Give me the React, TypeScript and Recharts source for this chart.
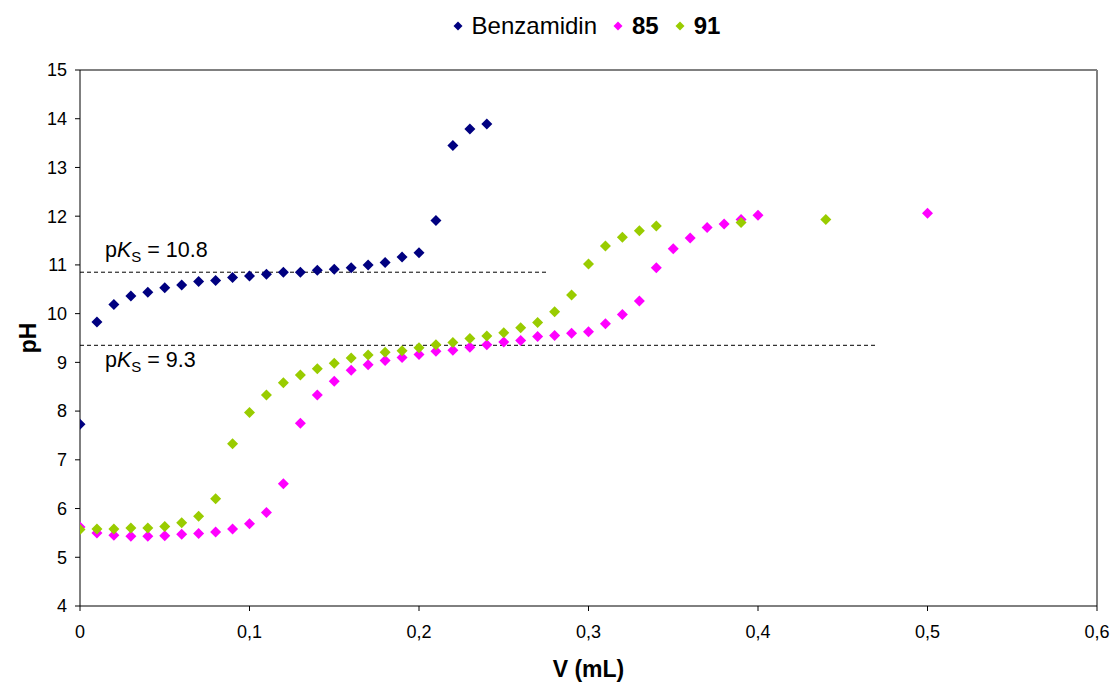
import React from 'react';
import {
  ScatterChart, Scatter, XAxis, YAxis, ReferenceLine, Legend, Label,
} from 'recharts';

const xTicks = [0, 0.1, 0.2, 0.3, 0.4, 0.5, 0.6];
const yTicks = [4, 5, 6, 7, 8, 9, 10, 11, 12, 13, 14, 15];

const vBenz = [0, 0.01, 0.02, 0.03, 0.04, 0.05, 0.06, 0.07, 0.08, 0.09, 0.1, 0.11, 0.12, 0.13, 0.14, 0.15, 0.16, 0.17, 0.18, 0.19, 0.2, 0.21, 0.22, 0.23, 0.24];
const pHBenz = [7.73, 9.83, 10.19, 10.36, 10.44, 10.53, 10.59, 10.66, 10.68, 10.74, 10.77, 10.81, 10.85, 10.85, 10.89, 10.91, 10.94, 11.0, 11.05, 11.16, 11.25, 11.91, 13.45, 13.79, 13.89];

const v85 = [0, 0.01, 0.02, 0.03, 0.04, 0.05, 0.06, 0.07, 0.08, 0.09, 0.1, 0.11, 0.12, 0.13, 0.14, 0.15, 0.16, 0.17, 0.18, 0.19, 0.2, 0.21, 0.22, 0.23, 0.24, 0.25, 0.26, 0.27, 0.28, 0.29, 0.3, 0.31, 0.32, 0.33, 0.34, 0.35, 0.36, 0.37, 0.38, 0.39, 0.4, 0.5];
const pH85 = [5.62, 5.5, 5.45, 5.43, 5.43, 5.44, 5.47, 5.49, 5.52, 5.58, 5.69, 5.92, 6.51, 7.75, 8.33, 8.61, 8.84, 8.95, 9.04, 9.1, 9.16, 9.23, 9.25, 9.31, 9.36, 9.42, 9.45, 9.53, 9.55, 9.6, 9.63, 9.79, 9.98, 10.26, 10.94, 11.33, 11.55, 11.77, 11.84, 11.93, 12.02, 12.06];

const v91 = [0, 0.01, 0.02, 0.03, 0.04, 0.05, 0.06, 0.07, 0.08, 0.09, 0.1, 0.11, 0.12, 0.13, 0.14, 0.15, 0.16, 0.17, 0.18, 0.19, 0.2, 0.21, 0.22, 0.23, 0.24, 0.25, 0.26, 0.27, 0.28, 0.29, 0.3, 0.31, 0.32, 0.33, 0.34, 0.39, 0.44];
const pH91 = [5.57, 5.58, 5.58, 5.6, 5.6, 5.63, 5.71, 5.84, 6.2, 7.33, 7.97, 8.33, 8.58, 8.74, 8.87, 8.98, 9.09, 9.15, 9.21, 9.24, 9.3, 9.36, 9.41, 9.49, 9.54, 9.61, 9.71, 9.82, 10.04, 10.38, 11.02, 11.39, 11.57, 11.7, 11.8, 11.87, 11.93];

const pKsValues = [10.85, 9.35];
const pKsLabels = ['10.8', '9.3'];
const pKsEnds = [0.275, 0.47];

const seriesNames = ['Benzamidin', '85', '91'];
const seriesBold = [false, true, true];
const colors = ['#000080', '#FF00FF', '#99CC00'];

const toPoints = (xs: number[], ys: number[]) => xs.map((x, i) => ({ x, y: ys[i] }));
const dataBenz = toPoints(vBenz, pHBenz);
const data85 = toPoints(v85, pH85);
const data91 = toPoints(v91, pH91);

const FONT = '"Liberation Sans", Arial, Helvetica, sans-serif';

const diamond = (color: string) => (props: any) => {
  const { cx, cy } = props;
  if (cx == null || cy == null) return <g />;
  const h = 5.5;
  return (
    <path
      d={`M${cx},${cy - h} L${cx + h},${cy} L${cx},${cy + h} L${cx - h},${cy} Z`}
      fill={color}
    />
  );
};

const LegendContent = () => (
  <div
    style={{
      display: 'flex',
      justifyContent: 'center',
      alignItems: 'center',
      paddingLeft: 61,
      fontFamily: FONT,
      fontSize: 24,
      lineHeight: '27px',
      height: 27,
      color: '#000',
    }}
  >
    {seriesNames.map((n, i) => (
      <div key={n} style={{ display: 'flex', alignItems: 'center', marginRight: i < 2 ? 16 : 0 }}>
        <svg width={10} height={10} style={{ marginRight: 9 }}>
          <path d="M5,0.5 L9.5,5 L5,9.5 L0.5,5 Z" fill={colors[i]} />
        </svg>
        <span style={{ fontWeight: seriesBold[i] ? 'bold' : 'normal' }}>{n}</span>
      </div>
    ))}
  </div>
);

const pKsLabel = (idx: number) => (props: any) => {
  const vb = props.viewBox || {};
  const x = (vb.x ?? 80) + 25;
  const y = (vb.y ?? 0) + (idx === 0 ? -15 : 22);
  return (
    <text x={x} y={y} fontFamily={FONT} fontSize={21.5} fill="#000">
      <tspan>p</tspan>
      <tspan fontStyle="italic">K</tspan>
      <tspan fontSize={15} dy={5}>S</tspan>
      <tspan dy={-5}>{` = ${pKsLabels[idx]}`}</tspan>
    </text>
  );
};

export default function App() {
  return (
    <div style={{ position: 'absolute', left: 0, top: 0, width: 1112, height: 683, background: '#fff' }}>
      <ScatterChart
        width={1112}
        height={683}
        margin={{ top: 43, right: 15, bottom: 0, left: 0 }}
        style={{ fontFamily: FONT }}
      >
        <XAxis
          type="number"
          dataKey="x"
          domain={[0, 0.6]}
          ticks={xTicks}
          tickFormatter={(v: number) => String(v).replace('.', ',')}
          height={77}
          stroke="#000"
          tickSize={5}
          tickMargin={14}
          tick={{ fill: '#000', fontSize: 18, fontFamily: FONT }}
          allowDataOverflow
        >
          <Label
            content={(p: any) => {
              const vb = p.viewBox;
              return (
                <text
                  x={vb.x + vb.width / 2}
                  y={vb.y + 71}
                  textAnchor="middle"
                  fontFamily={FONT}
                  fontWeight="bold"
                  fontSize={23}
                  fill="#000"
                >
                  V (mL)
                </text>
              );
            }}
          />
        </XAxis>
        <YAxis
          type="number"
          dataKey="y"
          domain={[4, 15]}
          ticks={yTicks}
          width={80}
          stroke="#000"
          tickSize={5}
          tickMargin={8}
          tick={{ fill: '#000', fontSize: 18, fontFamily: FONT }}
          allowDataOverflow
        >
          <Label
            content={(p: any) => {
              const vb = p.viewBox;
              const cx = vb.x + 28;
              const cy = vb.y + vb.height / 2;
              return (
                <text
                  x={cx}
                  y={cy}
                  transform={`rotate(-90 ${cx} ${cy})`}
                  textAnchor="middle"
                  dominantBaseline="central"
                  fontFamily={FONT}
                  fontWeight="bold"
                  fontSize={23}
                  fill="#000"
                >
                  pH
                </text>
              );
            }}
          />
        </YAxis>
        <ReferenceLine y={15} stroke="#808080" strokeWidth={2} />
        <ReferenceLine x={0.6} stroke="#808080" strokeWidth={2} />
        {pKsValues.map((v, i) => (
          <ReferenceLine
            key={`pk${i}`}
            segment={[{ x: 0, y: v }, { x: pKsEnds[i], y: v }]}
            stroke="#000"
            strokeWidth={1}
            strokeDasharray="4 3"
            label={pKsLabel(i)}
          />
        ))}
        <Legend verticalAlign="top" wrapperStyle={{ top: 12, left: 0, width: 1112 }} content={LegendContent} />
        <Scatter name="Benzamidin" data={dataBenz} fill={colors[0]} shape={diamond(colors[0])} isAnimationActive={false} />
        <Scatter name="85" data={data85} fill={colors[1]} shape={diamond(colors[1])} isAnimationActive={false} />
        <Scatter name="91" data={data91} fill={colors[2]} shape={diamond(colors[2])} isAnimationActive={false} />
      </ScatterChart>
    </div>
  );
}
